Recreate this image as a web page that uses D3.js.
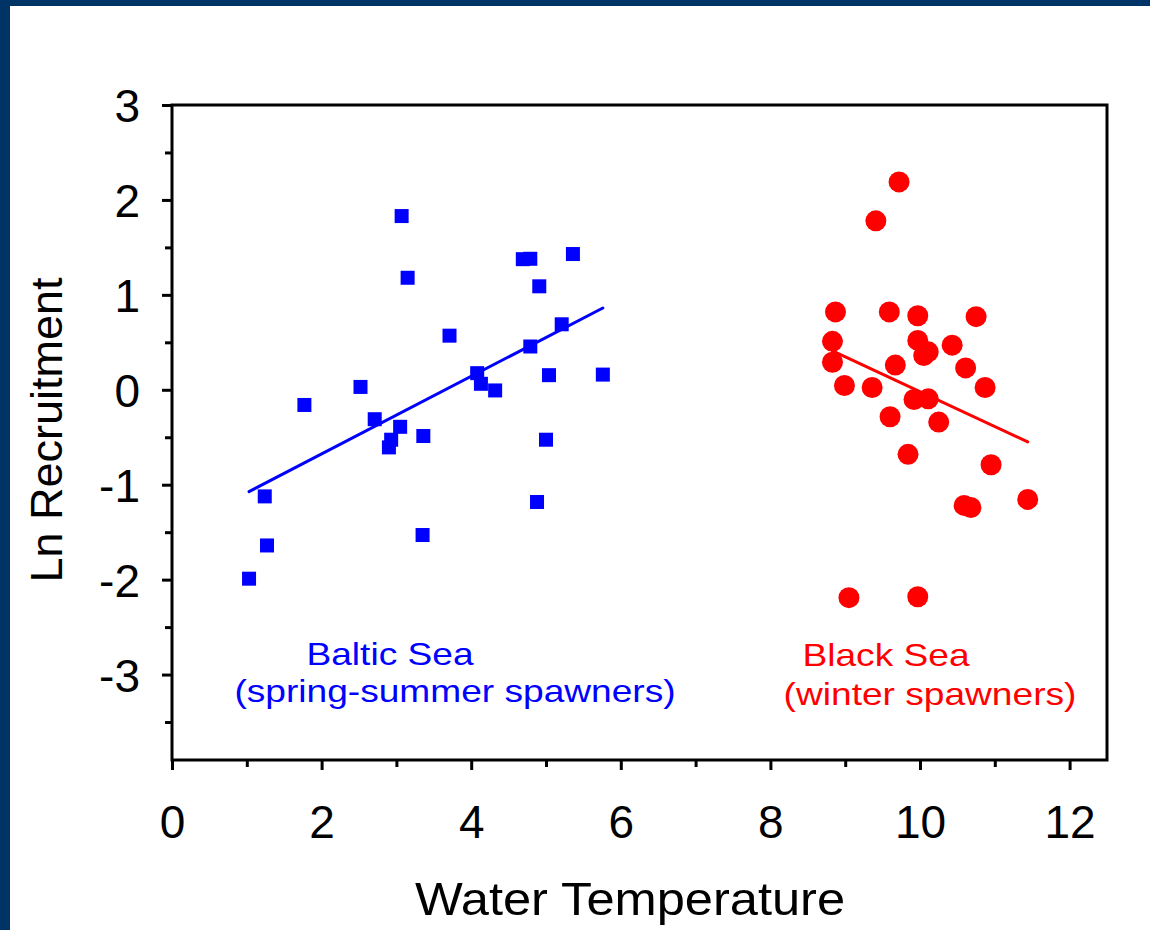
<!DOCTYPE html>
<html>
<head>
<meta charset="utf-8">
<script src="https://cdn.jsdelivr.net/npm/d3@7"></script>
<style>
  html, body { margin: 0; padding: 0; background: #ffffff; }
  svg { display: block; }
  text { font-family: "Liberation Sans", Arial, sans-serif; }
</style>
</head>
<body>
<script>
// Baltic Sea (spring-summer spawners): water temperature vs ln recruitment
const balticTemp = [3.07, 3.15, 4.69, 4.79, 5.36, 4.91, 3.71, 5.21, 4.79, 4.08, 4.13, 4.32, 5.04, 5.76,
                    2.52, 1.77, 2.71, 3.05, 2.93, 2.90, 3.36, 5.00, 4.88, 1.24, 3.35, 1.27, 1.03];
const balticLnRec = [1.83, 1.18, 1.376, 1.38, 1.43, 1.09, 0.57, 0.69, 0.456, 0.175, 0.063, -0.007, 0.154, 0.16,
                     0.03, -0.16, -0.31, -0.39, -0.526, -0.607, -0.487, -0.526, -1.182, -1.123, -1.53, -1.64, -1.99];

// Black Sea (winter spawners)
const blackTemp = [9.72, 9.41, 8.87, 9.59, 9.97, 10.75, 8.83, 9.97, 10.11, 10.05, 10.43, 8.83, 9.67, 10.61,
                   8.99, 9.36, 10.87, 9.92, 10.11, 9.60, 10.25, 9.84, 10.95, 10.59, 10.68, 11.44, 9.05, 9.97];
const blackLnRec = [2.19, 1.78, 0.82, 0.82, 0.78, 0.77, 0.51, 0.52, 0.40, 0.36, 0.47, 0.29, 0.26, 0.23,
                    0.045, 0.024, 0.024, -0.102, -0.095, -0.284, -0.34, -0.68, -0.79, -1.218, -1.24, -1.155, -2.19, -2.18];

// Linear fits: [intercept, slope]
const balticFit = [-1.494, 0.409];
const blackFit = [3.65, -0.367];

// Axis ticks
const xMajorTicks = [0, 2, 4, 6, 8, 10, 12];
const xMinorTicks = [1, 3, 5, 7, 9, 11];
const yMajorTicks = [3, 2, 1, 0, -1, -2, -3];
const yMinorTicks = [2.5, 1.5, 0.5, -0.5, -1.5, -2.5, -3.5];

const W = 1150, H = 930;
const plotL = 172, plotR = 1107, plotT = 105, plotB = 760;
const BLUE = "#0000ff", RED = "#ff0000", NAVY = "#003366";

const svg = d3.select("body").append("svg")
  .attr("width", W).attr("height", H);

// page background and navy slide edges
svg.append("rect").attr("width", W).attr("height", H).attr("fill", "#ffffff");
svg.append("rect").attr("x", 0).attr("y", 0).attr("width", W).attr("height", 6).attr("fill", NAVY);
svg.append("rect").attr("x", 0).attr("y", 0).attr("width", 10).attr("height", H).attr("fill", NAVY);

const x = d3.scaleLinear().domain([0, 12.5]).range([plotL, plotR]);
const y = d3.scaleLinear().domain([-3.9, 3]).range([plotB, plotT]);

const axisFont = 46;
const plainInt = d => String(d);   // keeps an ASCII hyphen for negatives

// x axis (major + minor ticks)
const gx = svg.append("g").attr("transform", `translate(0,${plotB})`);
gx.call(d3.axisBottom(x).tickValues(xMinorTicks).tickSize(7).tickFormat(""));
gx.append("g").call(d3.axisBottom(x).tickValues(xMajorTicks).tickSize(10).tickPadding(35).tickFormat(plainInt));

// y axis
const gy = svg.append("g").attr("transform", `translate(${plotL},0)`);
gy.call(d3.axisLeft(y).tickValues(yMinorTicks).tickSize(7).tickFormat(""));
gy.append("g").call(d3.axisLeft(y).tickValues(yMajorTicks).tickSize(10).tickPadding(22).tickFormat(plainInt));

svg.selectAll(".domain").remove();
svg.selectAll(".tick line").attr("stroke", "#000").attr("stroke-width", 3);
svg.selectAll(".tick text")
  .attr("fill", "#000")
  .style("font-size", axisFont + "px")
  .style("font-family", "'Liberation Sans', Arial, sans-serif");
gy.selectAll(".tick text").attr("dy", "0.36em");

// plot frame
svg.append("rect")
  .attr("x", plotL).attr("y", plotT)
  .attr("width", plotR - plotL).attr("height", plotB - plotT)
  .attr("fill", "none").attr("stroke", "#000").attr("stroke-width", 3);

// axis titles
svg.append("text")
  .attr("transform", "translate(630,915) scale(1.1,1)")
  .attr("text-anchor", "middle")
  .style("font-size", "46px")
  .text("Water Temperature");

svg.append("text")
  .attr("transform", "translate(62,430) rotate(-90)")
  .attr("text-anchor", "middle")
  .style("font-size", "45px")
  .text("Ln Recruitment");

// regression lines over each group's temperature range
function fitLine(temps, fit, color) {
  const ext = d3.extent(temps);
  const pts = ext.map(t => [t, fit[0] + fit[1] * t]);
  svg.append("path")
    .attr("d", d3.line().x(d => x(d[0])).y(d => y(d[1]))(pts))
    .attr("stroke", color).attr("stroke-width", 3)
    .attr("stroke-linecap", "round").attr("fill", "none");
}
fitLine(balticTemp, balticFit, BLUE);
fitLine(blackTemp, blackFit, RED);

// Baltic points: squares
const sq = 14;
svg.append("g").selectAll("rect")
  .data(d3.zip(balticTemp, balticLnRec))
  .join("rect")
  .attr("x", d => x(d[0]) - sq / 2)
  .attr("y", d => y(d[1]) - sq / 2)
  .attr("width", sq).attr("height", sq)
  .attr("fill", BLUE);

// Black Sea points: circles
svg.append("g").selectAll("circle")
  .data(d3.zip(blackTemp, blackLnRec))
  .join("circle")
  .attr("cx", d => x(d[0]))
  .attr("cy", d => y(d[1]))
  .attr("r", 10.5)
  .attr("fill", RED);

// two-line group annotations (wide lettering)
function note(str, cx, by, color) {
  const sx = 1.16;
  svg.append("text")
    .attr("transform", `translate(${cx},${by}) scale(${sx},1)`)
    .attr("text-anchor", "middle")
    .attr("fill", color).style("font-size", "32px").text(str);
}
note("Baltic Sea", 390, 665, BLUE);
note("(spring-summer spawners)", 455, 702, BLUE);
note("Black Sea", 886, 666, RED);
note("(winter spawners)", 930, 705, RED);
</script>
</body>
</html>
